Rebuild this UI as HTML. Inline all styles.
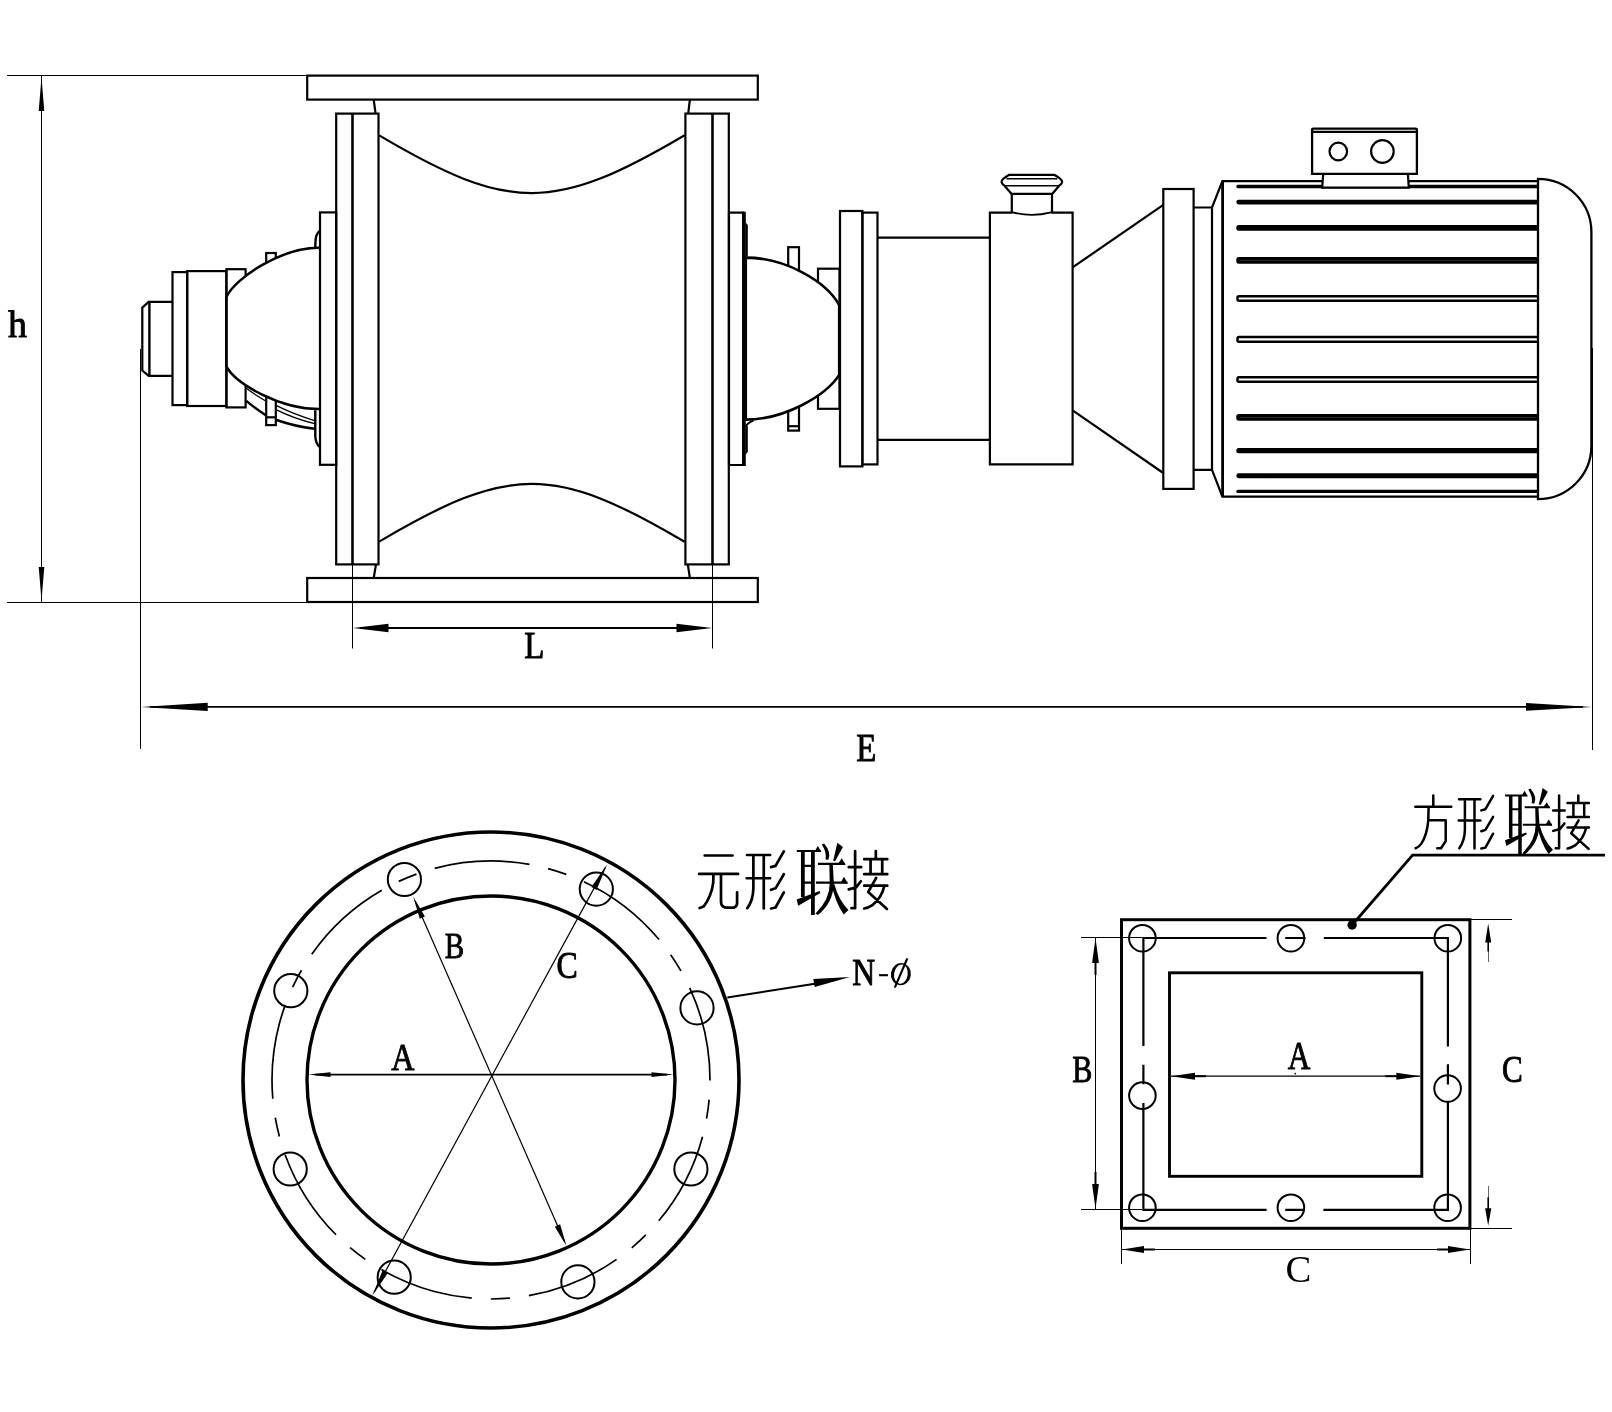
<!DOCTYPE html>
<html>
<head>
<meta charset="utf-8">
<title>Rotary valve dimension drawing</title>
<style>
html,body{margin:0;padding:0;background:#fff;}
body{width:1612px;height:1412px;overflow:hidden;font-family:"Liberation Serif",serif;}
svg{display:block;filter:grayscale(1);}
.m{fill:none;stroke:#000;stroke-width:2.2;stroke-linejoin:miter;stroke-linecap:butt;}
.w{fill:#fff;stroke:#000;stroke-width:2.2;stroke-linejoin:miter;}
.t{fill:none;stroke:#000;stroke-width:1;}
.t2{fill:none;stroke:#000;stroke-width:1.5;}
.k{fill:none;stroke:#000;stroke-width:3.4;}
.a{fill:#000;stroke:none;}
text{font-family:"Liberation Serif",serif;fill:#000;}
.cj{fill:none;stroke:#000;stroke-width:2;stroke-linecap:butt;stroke-linejoin:round;}
.cjb{fill:none;stroke:#000;stroke-width:3.4;stroke-linecap:butt;stroke-linejoin:round;}
</style>
</head>
<body>
<svg width="1612" height="1412" viewBox="0 0 1612 1412">
<rect x="0" y="0" width="1612" height="1412" fill="#fff"/>

<!-- ===== SECTION: dimension / extension lines of top view ===== -->
<g id="dims-top">
<line class="t" x1="7" y1="75.5" x2="307" y2="75.5"/>
<line class="t" x1="7" y1="602.5" x2="307" y2="602.5"/>
<line class="t" x1="41.5" y1="76" x2="41.5" y2="602"/>
<polygon class="a" points="41.5,77 44.3,111 38.7,111"/>
<polygon class="a" points="41.5,601 44.3,567 38.7,567"/>
<line class="t" x1="140.5" y1="349" x2="140.5" y2="749"/>
<line class="t" x1="1592.5" y1="348" x2="1592.5" y2="750"/>
<line class="t" x1="352.5" y1="565" x2="352.5" y2="648.5"/>
<line class="t" x1="712.5" y1="565" x2="712.5" y2="648.5"/>
<line class="m" x1="360" y1="628" x2="705" y2="628" style="stroke-width:1.8"/>
<polygon class="a" points="353,628 388.5,623.8 388.5,632.2"/>
<polygon class="a" points="712,628 676.5,623.8 676.5,632.2"/>
<line class="m" x1="150" y1="706.9" x2="1583" y2="706.9" style="stroke-width:1.9"/>
<polygon class="a" points="141.2,706.9 207.7,702.8 207.7,711"/>
<polygon class="a" points="1591.8,706.9 1526,703 1526,710.8"/>
</g>

<!-- ===== SECTION: main housing ===== -->
<g id="housing">
<rect class="m" x="307.2" y="75.6" width="450.6" height="24"/>
<rect class="m" x="307.2" y="578" width="450.6" height="24"/>
<!-- left side plates -->
<rect class="m" x="336.2" y="113.6" width="42.3" height="450.8"/>
<line class="m" x1="352.5" y1="113.6" x2="352.5" y2="564.4" style="stroke-width:2.6"/>
<!-- right side plates -->
<rect class="m" x="685.4" y="113.6" width="43.4" height="450.8"/>
<line class="m" x1="712.5" y1="113.6" x2="712.5" y2="564.4" style="stroke-width:2.6"/>
<!-- necks -->
<path class="m" d="M373.7,99.6 L375.6,113.6 M689.9,99.6 L688.2,113.6 M373.7,578 L376,564.4 M689.9,578 L687.8,564.4"/>
<!-- rotor curves -->
<path class="m" d="M379.2,135.4 C509.2,212.3 554.2,212.3 684.6,135.2"/>
<path class="m" d="M379.2,541.6 C509.2,464.7 554.2,464.7 684.6,541.8"/>
</g>

<!-- ===== SECTION: left bearing ===== -->
<g id="left-bearing">
<!-- bumps -->
<path class="m" style="stroke-width:2.4" d="M319.8,231 C316.5,233 315.3,236.5 315.3,247.8"/>
<path class="m" style="stroke-width:2.4" d="M315.3,410.2 L315.3,436 C315.6,442 317,445 319.8,446.9"/>
<!-- top tab behind dome -->
<rect class="m" x="266.2" y="253" width="9.6" height="10"/>
<!-- ring arcs under dome -->
<path class="m" style="stroke-width:1.3" d="M246.3,388.3 Q256,395.5 266.2,401.3"/>
<path class="m" style="stroke-width:2.4" d="M246.3,400.9 Q256,409 266.2,415.4"/>
<path class="m" style="stroke-width:1.3" d="M276.6,405.7 Q294,414.5 314.6,420.6"/>
<path class="m" style="stroke-width:1.3" d="M276.6,409.8 Q294,418.5 314.6,423.6"/>
<path class="m" style="stroke-width:2.6" d="M276.6,419.9 Q294,426 314.6,428.8"/>
<!-- bottom tab -->
<rect class="w" x="266.2" y="396" width="9.6" height="29.1"/>
<line class="m" x1="266.2" y1="417.3" x2="275.8" y2="417.3"/>
<!-- collar -->
<rect class="m" x="226.4" y="269.2" width="19.2" height="138.2"/>
<!-- dome -->
<path class="w" style="stroke-width:2.5" d="M319,247.8 C282,247.8 236,277 226.4,296.9 L226.4,366.7 C236,384 280,409.1 319,409.1"/>
<!-- bearing plate -->
<rect class="m" x="320" y="212.4" width="16.2" height="252.4"/>
<!-- hub rects -->
<rect class="m" x="187.2" y="271.1" width="39.2" height="134.9"/>
<rect class="m" x="172.5" y="272.1" width="14.7" height="133"/>
<!-- shaft stub -->
<path class="m" d="M172.5,301.9 L148.7,301.9 L142.3,307.6 L142.3,370.5 L148.7,375.9 L172.5,375.9"/>
<line class="m" x1="149.4" y1="301.9" x2="149.4" y2="375.9" style="stroke-width:2.4"/>
</g>

<!-- ===== SECTION: right bearing + coupling ===== -->
<g id="right-bearing">
<!-- tabs -->
<rect class="m" x="788.2" y="247.2" width="10.8" height="24"/>
<rect class="m" x="788.2" y="404" width="10.8" height="26.6"/>
<line class="m" x1="788.2" y1="426.2" x2="799" y2="426.2"/>
<!-- small hub -->
<rect class="m" x="818" y="268.7" width="21.5" height="140.1"/>
<!-- dome -->
<path class="w" style="stroke-width:2.6" d="M745.8,257.6 C785,257.6 826,281 839.2,305 L839.2,374.9 C826,395.5 785,419.6 745.8,419.6 Z"/>
<path class="m" style="stroke-width:1.8" d="M746,426 Q748,422.5 753.5,420.6"/>
<!-- bearing plate -->
<path class="m" d="M743.9,212.7 L729,212.7 L729,465 L743.9,465"/>
<line class="m" x1="743.9" y1="211.7" x2="743.9" y2="466" style="stroke-width:3.8"/>
<path d="M745.6,222.5 L747.8,225 L747.8,256.4 L745.6,256.4 Z M745.6,425.8 L747.8,425.8 L747.8,452 L745.6,454.5 Z" fill="#000"/>
<!-- coupling flanges -->
<rect class="m" x="840" y="211" width="22.4" height="255.4"/>
<rect class="m" x="862.4" y="212.6" width="15.1" height="251.8"/>
</g>

<!-- ===== SECTION: gearbox ===== -->
<g id="gearbox">
<path class="m" d="M877.5,237.6 L989.9,237.6 M877.5,439.9 L989.9,439.9"/>
<path class="m" d="M1012.8,212.6 L989.9,212.6 L989.9,464.4 L1072.6,464.4 L1072.6,212.6 L1051,212.6"/>
<!-- breather -->
<path class="m" d="M1011.8,212.5 L1011.8,193.8 M1052,212.5 L1052,193.8"/>
<path class="m" style="stroke-width:1.8" d="M1012.8,212.4 Q1031.9,217.4 1051,212.4"/>
<path class="m" d="M1011.5,193.8 L1052.3,193.8 L1059.2,185.7 C1060.5,184.8 1061.6,184 1062,182.5 C1063,180 1059,177.5 1054.2,174.8 L1009.3,174.8 C1004.5,177.5 1000.6,180 1001.7,182.5 C1002.1,184 1003.2,184.8 1004.5,185.7 Z"/>
<path class="m" style="stroke-width:1.6" d="M1006.5,178.7 L1057.2,178.7 M1004.5,185.7 L1059.2,185.7"/>
<!-- cone -->
<path class="m" d="M1072.6,267.4 L1163.3,204.8 M1072.6,410.3 L1163.3,473"/>
<!-- motor flange + spacer -->
<rect class="m" x="1163.3" y="189" width="30.3" height="299.9"/>
<path class="m" d="M1193.6,207.5 L1212,207.5 M1193.6,469.8 L1212,469.8"/>
</g>

<!-- ===== SECTION: motor ===== -->
<g id="motor">
<!-- body -->
<path class="m" d="M1537.4,181.1 L1222.4,181.1 L1212,207.5 L1212,469.8 L1222.4,496.7 L1537.4,496.7"/>
<line class="m" x1="1222.6" y1="181.1" x2="1222.6" y2="496.7" style="stroke-width:2.8"/>
<rect x="1236.3" y="184.85" width="306" height="3.30" rx="1.6" fill="#000"/>
<rect x="1236.3" y="199.80" width="306" height="4.60" rx="2.3" fill="#000"/>
<rect x="1236.3" y="225.10" width="306" height="5.60" rx="2.5" fill="#000"/>
<rect x="1236.3" y="257.10" width="306" height="6.60" rx="2.5" fill="#000"/>
<line x1="1240" y1="260.40" x2="1536" y2="260.40" stroke="#555" stroke-width="0.5"/>
<rect x="1237.5" y="296.15" width="305" height="4.60" rx="1.5" fill="#fff" stroke="#000" stroke-width="2.5"/>
<rect x="1237.5" y="337.05" width="305" height="4.60" rx="1.5" fill="#fff" stroke="#000" stroke-width="2.5"/>
<rect x="1237.5" y="377.20" width="305" height="4.60" rx="1.5" fill="#fff" stroke="#000" stroke-width="2.5"/>
<rect x="1236.3" y="414.10" width="306" height="6.70" rx="2.5" fill="#000"/>
<line x1="1240" y1="417.45" x2="1536" y2="417.45" stroke="#555" stroke-width="0.5"/>
<rect x="1236.3" y="448.00" width="306" height="5.20" rx="2.5" fill="#000"/>
<rect x="1236.3" y="473.30" width="306" height="4.90" rx="2.5" fill="#000"/>
<rect x="1236.3" y="489.70" width="306" height="3.40" rx="1.7" fill="#000"/>
<!-- end cap -->
<path class="w" style="stroke-width:2.3" d="M1538,178.8 A53.4,53.4 0 0 1 1591.4,232.2 L1591.4,445.8 A53.4,53.4 0 0 1 1538,499.2 Z"/>
<!-- junction box -->
<path class="w" d="M1323.2,173.9 L1407.9,173.9 L1408.8,187.6 L1322.2,187.6 Z"/>
<path class="w" d="M1312.1,130 Q1312.1,128.7 1313.6,128.7 L1415.4,128.7 Q1416.9,128.7 1416.9,130 L1416.9,173.9 L1312.1,173.9 Z" style="stroke-width:2.3"/>
<line class="m" x1="1312.1" y1="131.8" x2="1416.9" y2="131.8"/>
<circle class="m" cx="1338.3" cy="151.5" r="8.8"/>
<circle class="m" cx="1382.4" cy="151.5" r="11.3"/>
</g>

<!-- ===== SECTION: round flange ===== -->
<g id="round-flange">
<circle class="k" cx="491" cy="1080" r="248" style="stroke-width:3.6"/>
<circle class="k" cx="491" cy="1080" r="184" style="stroke-width:3.4"/>
<circle class="t2" cx="491" cy="1080" r="219" stroke-dasharray="95.56 19.11 19.11 19.11" transform="rotate(15 491 1080)" style="stroke-width:1.7"/>
<circle class="m" style="stroke-width:2" cx="404.4" cy="879.5" r="16.6"/>
<circle class="m" style="stroke-width:2" cx="290.8" cy="990.7" r="16.6"/>
<circle class="m" style="stroke-width:2" cx="596.3" cy="889.1" r="16.6"/>
<circle class="m" style="stroke-width:2" cx="697.0" cy="1007.9" r="16.6"/>
<circle class="m" style="stroke-width:2" cx="290.2" cy="1169.0" r="16.6"/>
<circle class="m" style="stroke-width:2" cx="394.2" cy="1277.2" r="16.6"/>
<circle class="m" style="stroke-width:2" cx="690.9" cy="1169.0" r="16.6"/>
<circle class="m" style="stroke-width:2" cx="577.9" cy="1281.9" r="16.6"/>
<line class="m" x1="315" y1="1074.6" x2="667" y2="1074.6" style="stroke-width:1.8"/>
<polygon class="a" points="308.5,1074.6 330.5,1072.2 330.5,1077.0"/>
<polygon class="a" points="673.5,1074.6 651.5,1077.0 651.5,1072.2"/>
<line class="t" x1="415.1" y1="901.0" x2="564.5" y2="1241.6" style="stroke-width:1.2"/>
<polygon class="a" points="566.5,1246.1 554.8,1226.7 560.1,1224.3"/>
<polygon class="a" points="413.1,896.5 424.9,916.4 419.8,918.7"/>
<line class="t" x1="605.3" y1="867.6" x2="374.1" y2="1292.2" style="stroke-width:1.2"/>
<polygon class="a" points="607.3,863.9 596.5,889.9 591.4,887.1"/>
<polygon class="a" points="372.1,1295.9 382.7,1270.2 387.9,1273.1"/>
<line class="m" x1="727.3" y1="997.5" x2="818" y2="983.2" style="stroke-width:2"/>
<polygon class="a" points="850.0,976.9 814.7,987.0 813.3,978.9"/>
</g>

<!-- ===== SECTION: square flange ===== -->
<g id="square-flange">
<rect class="k" x="1121.5" y="919.7" width="348.4" height="308.6" style="stroke-width:3"/>
<rect class="k" x="1169.5" y="972.8" width="252.3" height="203.5" style="stroke-width:2.9"/>
<circle class="m" style="stroke-width:2" cx="1142.4" cy="938.2" r="13.3"/>
<circle class="m" style="stroke-width:2" cx="1447.8" cy="938.2" r="13.3"/>
<circle class="m" style="stroke-width:2" cx="1142.4" cy="1207.7" r="13.3"/>
<circle class="m" style="stroke-width:2" cx="1447.6" cy="1207.7" r="13.3"/>
<circle class="m" style="stroke-width:2" cx="1290.9" cy="938.2" r="13.3"/>
<circle class="m" style="stroke-width:2" cx="1290.9" cy="1207.7" r="13.3"/>
<circle class="m" style="stroke-width:2" cx="1142.4" cy="1095.6" r="13.3"/>
<circle class="m" style="stroke-width:2" cx="1447.6" cy="1088.5" r="13.3"/>
<path class="m" style="stroke-width:2.2" d="M1143.4,938 L1266.5,938 M1285.2,938 L1305.6,938 M1323.8,938 L1448,938"/>
<path class="m" style="stroke-width:2.2" d="M1143.4,1209.8 L1266.6,1209.8 M1285.2,1209.8 L1303.6,1209.8 M1323.4,1209.8 L1448,1209.8"/>
<path class="m" style="stroke-width:2.2" d="M1143.4,936.9 L1143.4,1046 M1143.4,1064.8 L1143.4,1084.3 M1143.4,1103 L1143.4,1210.9"/>
<path class="m" style="stroke-width:2.2" d="M1447.9,936.9 L1447.9,1046.5 M1447.9,1064.3 L1447.9,1084.4 M1447.9,1102 L1447.9,1210.9"/>
<line class="t" x1="1081" y1="937.5" x2="1142" y2="937.5"/>
<line class="t" x1="1081" y1="1209.5" x2="1142" y2="1209.5"/>
<line class="t" x1="1095.5" y1="938" x2="1095.5" y2="1209"/>
<polygon class="a" points="1095.5,938.0 1098.9,963.0 1092.1,963.0"/>
<line x1="1095.5" y1="962.0" x2="1095.5" y2="975.0" stroke="#000" stroke-width="2.0"/>
<polygon class="a" points="1095.5,1209.0 1092.1,1184.0 1098.9,1184.0"/>
<line x1="1095.5" y1="1185.0" x2="1095.5" y2="1172.0" stroke="#000" stroke-width="2.0"/>
<line class="t" x1="1470" y1="919.5" x2="1512" y2="919.5"/>
<line class="t" x1="1470" y1="1228.5" x2="1512" y2="1228.5"/>
<line class="t" x1="1488.5" y1="942" x2="1488.5" y2="962" style="stroke:#666"/>
<line class="t" x1="1488.5" y1="1186" x2="1488.5" y2="1208" style="stroke:#666"/>
<polygon class="a" points="1488.2,923.6 1491.2,942.4 1485.2,942.4"/>
<line x1="1488.2" y1="941.4" x2="1488.2" y2="951.4" stroke="#000" stroke-width="1.6"/>
<polygon class="a" points="1488.2,1225.8 1485.1,1208.2 1491.3,1208.2"/>
<line x1="1488.2" y1="1209.2" x2="1488.2" y2="1197.2" stroke="#000" stroke-width="1.6"/>
<line class="t" x1="1121.5" y1="1229" x2="1121.5" y2="1264"/>
<line class="t" x1="1470.5" y1="1229" x2="1470.5" y2="1264"/>
<line class="t" x1="1122" y1="1249.5" x2="1470" y2="1249.5"/>
<polygon class="a" points="1122.0,1249.5 1144.0,1246.0 1144.0,1253.0"/>
<line x1="1143.0" y1="1249.5" x2="1155.0" y2="1249.5" stroke="#000" stroke-width="2.0"/>
<polygon class="a" points="1470.0,1249.5 1448.0,1253.0 1448.0,1246.0"/>
<line x1="1449.0" y1="1249.5" x2="1437.0" y2="1249.5" stroke="#000" stroke-width="2.0"/>
<line class="t" x1="1171" y1="1076.2" x2="1420" y2="1076.2" style="stroke-width:1.3"/>
<polygon class="a" points="1171.0,1076.2 1195.0,1072.7 1195.0,1079.7"/>
<line x1="1194.0" y1="1076.2" x2="1206.0" y2="1076.2" stroke="#000" stroke-width="2.0"/>
<polygon class="a" points="1420.3,1076.2 1396.3,1079.7 1396.3,1072.7"/>
<line x1="1397.3" y1="1076.2" x2="1385.3" y2="1076.2" stroke="#000" stroke-width="2.0"/>
<path class="m" style="stroke-width:2.8" d="M1352.1,925 L1412.6,855.2 L1605,855.2"/>
<circle class="a" cx="1352.1" cy="925" r="4.7"/>
</g>

<!-- ===== SECTION: labels ===== -->
<g id="labels">
<text transform="translate(7.88,336.75) scale(0.3794,0.3805)" font-size="100" stroke="#000" stroke-width="2.4" stroke-linejoin="round">h</text>
<text transform="translate(524.30,657.55) scale(0.3295,0.3696)" font-size="100" stroke="#000" stroke-width="2.4" stroke-linejoin="round">L</text>
<text transform="translate(856.30,760.65) scale(0.3288,0.3910)" font-size="100" stroke="#000" stroke-width="2.4" stroke-linejoin="round">E</text>
<text transform="translate(444.81,958.04) scale(0.2918,0.3664)" font-size="100" stroke="#000" stroke-width="2.4" stroke-linejoin="round">B</text>
<text transform="translate(556.54,978.19) scale(0.3189,0.3706)" font-size="100" stroke="#000" stroke-width="2.4" stroke-linejoin="round">C</text>
<text transform="translate(391.34,1070.35) scale(0.3220,0.3787)" font-size="100" stroke="#000" stroke-width="2.4" stroke-linejoin="round">A</text>
<text transform="translate(852.33,984.55) scale(0.3177,0.3803)" font-size="100" stroke="#000" stroke-width="2.4" stroke-linejoin="round">N</text>
<text transform="translate(878.19,980.96) scale(0.3118,0.2276)" font-size="100" stroke="#000" stroke-width="2.4" stroke-linejoin="round">-</text>
<text transform="translate(1072.18,1081.94) scale(0.3020,0.3695)" font-size="100" stroke="#000" stroke-width="2.4" stroke-linejoin="round">B</text>
<text transform="translate(1287.74,1069.05) scale(0.3134,0.3938)" font-size="100" stroke="#000" stroke-width="2.4" stroke-linejoin="round">A</text>
<text transform="translate(1501.97,1082.38) scale(0.3118,0.3780)" font-size="100" stroke="#000" stroke-width="2.4" stroke-linejoin="round">C</text>
<text transform="translate(1285.41,1281.54) scale(0.3872,0.3721)" font-size="100">C</text>
<g transform="rotate(9 900.9 974.1)"><path fill-rule="evenodd" fill="#000" d="M890.9,974.1 a10,11.1 0 1,0 20,0 a10,11.1 0 1,0 -20,0 Z M894.1,974.1 a6.8,9.7 0 1,0 13.6,0 a6.8,9.7 0 1,0 -13.6,0 Z"/></g>
<line x1="894.8" y1="987.6" x2="907.3" y2="958.4" stroke="#000" stroke-width="2.2"/>
<circle cx="1295.3" cy="1073.6" r="0.9" fill="#000"/>
</g>

<!-- ===== SECTION: cjk text ===== -->
<g id="cjk">
<g style="stroke-linecap:round;stroke-width:2.5" class="cj"><path d="M1433.3,795.5 L1433.3,806.7 M1415.3,806.7 L1451.3,806.7 M1428.6,806.7 L1428.3,820.3 Q1427,835 1421.2,843.9 Q1419,847 1415.6,848.2 M1428.6,820.3 L1445.7,820.3 L1445.7,841.1 L1441,848.2 L1437.3,848.2"/><path d="M1459,799.2 L1480.4,799.2 M1458.7,820.6 L1480.4,820.6 M1464.9,799.2 L1464.9,829.6 Q1464.7,841 1459.3,848.2 M1474.5,799.2 L1474.5,848.5 M1493.1,795.8 L1485.4,809.2 L1481.3,810.4 M1493.1,816.9 L1485.4,829.9 L1481.3,831.2 M1493.1,833.7 L1485.4,847.6 L1481.3,848.5"/><path d="M1553.2,810.4 L1564.7,810.4 M1559.1,795.5 L1559.1,848.2 L1555.7,848.2 M1553.2,830.9 L1560,829 L1564.4,823.4 M1578.3,795.5 L1578.3,803 M1567.5,803 L1588.9,803 M1573.4,803.6 L1573.4,816.6 M1584.2,803.6 L1584.2,816.6 M1567.5,816.9 L1588.9,816.9 M1578.6,820.3 L1571.2,833.3 L1588.6,848.9 M1586.1,827.8 Q1584,838 1575.5,845.1 Q1571,848 1567.5,848.5 M1567.5,827.5 L1588.9,827.5"/></g>
<g>
<path d="M1505.1,795.5 L1527.2,795.5 M1510.7,809.2 L1520,809.2 M1510.7,824.7 L1520,824.7 M1524.7,807.3 L1549.8,807.3 M1522.8,824.7 L1552,824.7" fill="none" stroke="#000" stroke-width="2"/>
<path d="M1510.7,795.5 L1510.7,838 M1520,795.5 L1520,854.4" fill="none" stroke="#000" stroke-width="3.5"/>
<polygon points="1521.8,795.5 1524.6,790.8 1527.8,796.5" fill="#000"/>
<polygon points="1543.2,807.3 1546.8,802.2 1550.3,808.3" fill="#000"/>
<polygon points="1545.6,824.7 1548.8,819.3 1552.4,825.7" fill="#000"/>
<polygon points="1505,840.3 1506.4,846 1526.9,834.2 1526.1,832.4" fill="#000"/>
<path d="M1528.3,789.4 L1530.4,788.6 Q1537.5,797 1534.2,803.8 L1531.7,803 Q1533,797 1528.3,789.4 Z" fill="#000"/>
<polygon points="1542.6,787.9 1547.8,791.8 1540.6,805 1538.8,804.4" fill="#000"/>
<path d="M1535.2,807.3 L1538.4,807.3 L1539.4,825 Q1539,843 1524.6,854.6 L1522.4,853.2 Q1535.8,840 1535.6,825 Z" fill="#000"/>
<path d="M1537.6,827.2 L1539.8,825.8 Q1544,841 1553,849.8 L1548.5,854 Q1540.5,842 1537.6,827.2 Z" fill="#000"/>
</g>
<g transform="translate(796.8,851) scale(1.08,1.085) translate(-1505.1,-795.5)">
<g style="stroke-linecap:round;stroke-width:2.5" class="cj"><path d="M1459,799.2 L1480.4,799.2 M1458.7,820.6 L1480.4,820.6 M1464.9,799.2 L1464.9,829.6 Q1464.7,841 1459.3,848.2 M1474.5,799.2 L1474.5,848.5 M1493.1,795.8 L1485.4,809.2 L1481.3,810.4 M1493.1,816.9 L1485.4,829.9 L1481.3,831.2 M1493.1,833.7 L1485.4,847.6 L1481.3,848.5"/><path d="M1553.2,810.4 L1564.7,810.4 M1559.1,795.5 L1559.1,848.2 L1555.7,848.2 M1553.2,830.9 L1560,829 L1564.4,823.4 M1578.3,795.5 L1578.3,803 M1567.5,803 L1588.9,803 M1573.4,803.6 L1573.4,816.6 M1584.2,803.6 L1584.2,816.6 M1567.5,816.9 L1588.9,816.9 M1578.6,820.3 L1571.2,833.3 L1588.6,848.9 M1586.1,827.8 Q1584,838 1575.5,845.1 Q1571,848 1567.5,848.5 M1567.5,827.5 L1588.9,827.5"/></g>
<g>
<path d="M1505.1,795.5 L1527.2,795.5 M1510.7,809.2 L1520,809.2 M1510.7,824.7 L1520,824.7 M1524.7,807.3 L1549.8,807.3 M1522.8,824.7 L1552,824.7" fill="none" stroke="#000" stroke-width="2"/>
<path d="M1510.7,795.5 L1510.7,838 M1520,795.5 L1520,854.4" fill="none" stroke="#000" stroke-width="3.5"/>
<polygon points="1521.8,795.5 1524.6,790.8 1527.8,796.5" fill="#000"/>
<polygon points="1543.2,807.3 1546.8,802.2 1550.3,808.3" fill="#000"/>
<polygon points="1545.6,824.7 1548.8,819.3 1552.4,825.7" fill="#000"/>
<polygon points="1505,840.3 1506.4,846 1526.9,834.2 1526.1,832.4" fill="#000"/>
<path d="M1528.3,789.4 L1530.4,788.6 Q1537.5,797 1534.2,803.8 L1531.7,803 Q1533,797 1528.3,789.4 Z" fill="#000"/>
<polygon points="1542.6,787.9 1547.8,791.8 1540.6,805 1538.8,804.4" fill="#000"/>
<path d="M1535.2,807.3 L1538.4,807.3 L1539.4,825 Q1539,843 1524.6,854.6 L1522.4,853.2 Q1535.8,840 1535.6,825 Z" fill="#000"/>
<path d="M1537.6,827.2 L1539.8,825.8 Q1544,841 1553,849.8 L1548.5,854 Q1540.5,842 1537.6,827.2 Z" fill="#000"/>
</g>
</g>
<g style="stroke-linecap:round" class="cj"><path style="stroke-width:2.7" d="M704.7,855.5 L732.6,855.5 M699.2,873.9 L738.1,873.9 M713.5,873.9 L713.2,882.8 Q711.5,896 703.6,906.6 L699.6,908 M721,873.9 L721,901.9 Q721.2,907.6 726.8,907.7 L733.7,907.7 Q737.1,906.5 737.1,903.2 L737.1,892.3"/></g>
</g>

</svg>
</body>
</html>
